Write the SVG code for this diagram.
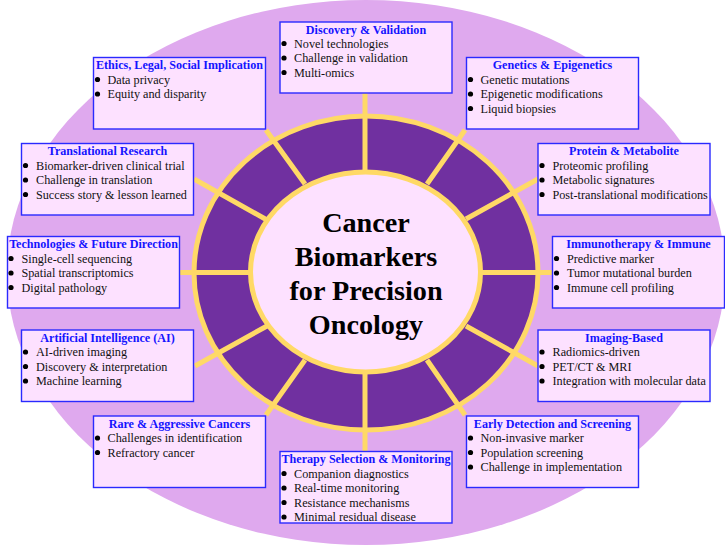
<svg xmlns="http://www.w3.org/2000/svg" width="725" height="545" viewBox="0 0 725 545">
<style>
.box{fill:#fde1ff;stroke:#2a2aff;stroke-width:1.4}
.t{font:bold 12.1px "Liberation Serif","Times New Roman",serif;fill:#1414ff;text-anchor:middle}
.b{font:12.2px "Liberation Serif","Times New Roman",serif;fill:#111}
.d{fill:#000}
.s{stroke:#ffd966;stroke-width:5;fill:none}
.c{font:bold 28.2px "Liberation Serif","Times New Roman",serif;fill:#000;text-anchor:middle}
</style>
<ellipse id="background" cx="366" cy="272.500" rx="359" ry="272.500" fill="#dfa9ee"/>
<g id="ring"><ellipse cx="366" cy="273" rx="172" ry="157" fill="#7030a0" stroke="#ffd966" stroke-width="5"/></g>
<g id="connectors">
<path class="s" d="M365 93V172M365 372V451M180 272.500H250M481 272.500H553M266 130L305 184M194 179L267 220M195 366L267 326M266 415L305 360M465 130L427 184M538 179L466 219M538 366L466 326M465 415L427 360"/>
</g>
<g id="center"><ellipse cx="365.500" cy="272" rx="115" ry="100" fill="#fde1ff" stroke="#ffd966" stroke-width="5"/>
<text class="c" x="366" y="232">Cancer</text><text class="c" x="366" y="266">Biomarkers</text><text class="c" x="366" y="300">for Precision</text><text class="c" x="366" y="334">Oncology</text></g>
<g id="discovery"><rect class="box" x="280" y="22" width="172" height="71"/><text class="t" x="366" y="33.500">Discovery &amp; Validation</text><circle class="d" cx="284" cy="43.500" r="2.600"/><text class="b" x="294" y="47.500">Novel technologies</text><circle class="d" cx="284" cy="58" r="2.600"/><text class="b" x="294" y="62">Challenge in validation</text><circle class="d" cx="284" cy="72.500" r="2.600"/><text class="b" x="294" y="76.500">Multi-omics</text></g>
<g id="ethics"><rect class="box" x="93.500" y="57.500" width="172" height="71.500"/><text class="t" x="179.500" y="69">Ethics, Legal, Social Implication</text><circle class="d" cx="97.500" cy="79.500" r="2.600"/><text class="b" x="107.500" y="83.500">Data privacy</text><circle class="d" cx="97.500" cy="94" r="2.600"/><text class="b" x="107.500" y="98">Equity and disparity</text></g>
<g id="genetics"><rect class="box" x="466.500" y="57.500" width="172" height="71.500"/><text class="t" x="552.500" y="69">Genetics &amp; Epigenetics</text><circle class="d" cx="470.500" cy="79.500" r="2.600"/><text class="b" x="480.500" y="83.500">Genetic mutations</text><circle class="d" cx="470.500" cy="94" r="2.600"/><text class="b" x="480.500" y="98">Epigenetic modifications</text><circle class="d" cx="470.500" cy="108.500" r="2.600"/><text class="b" x="480.500" y="112.500">Liquid biopsies</text></g>
<g id="translational"><rect class="box" x="21.500" y="143.500" width="172" height="71.500"/><text class="t" x="107.500" y="155">Translational Research</text><circle class="d" cx="25.500" cy="165.500" r="2.600"/><text class="b" x="36" y="169.500">Biomarker-driven clinical trial</text><circle class="d" cx="25.500" cy="180" r="2.600"/><text class="b" x="36" y="184">Challenge in translation</text><circle class="d" cx="25.500" cy="194.500" r="2.600"/><text class="b" x="36" y="198.500">Success story &amp; lesson learned</text></g>
<g id="protein"><rect class="box" x="538" y="143.500" width="172" height="71.500"/><text class="t" x="624" y="155">Protein &amp; Metabolite</text><circle class="d" cx="542" cy="165.500" r="2.600"/><text class="b" x="552.500" y="169.500">Proteomic profiling</text><circle class="d" cx="542" cy="180" r="2.600"/><text class="b" x="552.500" y="184">Metabolic signatures</text><circle class="d" cx="542" cy="194.500" r="2.600"/><text class="b" x="552.500" y="198.500">Post-translational modifications</text></g>
<g id="technologies"><rect class="box" x="7.500" y="236.500" width="172" height="71.500"/><text class="t" x="93.500" y="248">Technologies &amp; Future Direction</text><circle class="d" cx="11" cy="258.500" r="2.600"/><text class="b" x="21.500" y="262.500">Single-cell sequencing</text><circle class="d" cx="11" cy="273" r="2.600"/><text class="b" x="21.500" y="277">Spatial transcriptomics</text><circle class="d" cx="11" cy="287.500" r="2.600"/><text class="b" x="21.500" y="291.500">Digital pathology</text></g>
<g id="immunotherapy"><rect class="box" x="552.500" y="236.500" width="172" height="71.500"/><text class="t" x="638.500" y="248">Immunotherapy &amp; Immune</text><circle class="d" cx="556.500" cy="258.500" r="2.600"/><text class="b" x="567" y="262.500">Predictive marker</text><circle class="d" cx="556.500" cy="273" r="2.600"/><text class="b" x="567" y="277">Tumor mutational burden</text><circle class="d" cx="556.500" cy="287.500" r="2.600"/><text class="b" x="567" y="291.500">Immune cell profiling</text></g>
<g id="ai"><rect class="box" x="21.500" y="330" width="172" height="71.500"/><text class="t" x="107.500" y="341.500">Artificial Intelligence (AI)</text><circle class="d" cx="25.500" cy="352" r="2.600"/><text class="b" x="36" y="356">AI-driven imaging</text><circle class="d" cx="25.500" cy="366.500" r="2.600"/><text class="b" x="36" y="370.500">Discovery &amp; interpretation</text><circle class="d" cx="25.500" cy="381" r="2.600"/><text class="b" x="36" y="385">Machine learning</text></g>
<g id="imaging"><rect class="box" x="538" y="330" width="172" height="71.500"/><text class="t" x="624" y="341.500">Imaging-Based</text><circle class="d" cx="542" cy="352" r="2.600"/><text class="b" x="552.500" y="356">Radiomics-driven</text><circle class="d" cx="542" cy="366.500" r="2.600"/><text class="b" x="552.500" y="370.500">PET/CT &amp; MRI</text><circle class="d" cx="542" cy="381" r="2.600"/><text class="b" x="552.500" y="385">Integration with molecular data</text></g>
<g id="rare"><rect class="box" x="93.500" y="416" width="172" height="71.500"/><text class="t" x="179.500" y="427.500">Rare &amp; Aggressive Cancers</text><circle class="d" cx="97.500" cy="438" r="2.600"/><text class="b" x="107.500" y="442">Challenges in identification</text><circle class="d" cx="97.500" cy="452.500" r="2.600"/><text class="b" x="107.500" y="456.500">Refractory cancer</text></g>
<g id="early"><rect class="box" x="466.500" y="416" width="172" height="71.500"/><text class="t" x="552.500" y="427.500">Early Detection and Screening</text><circle class="d" cx="470.500" cy="438" r="2.600"/><text class="b" x="480.500" y="442">Non-invasive marker</text><circle class="d" cx="470.500" cy="452.500" r="2.600"/><text class="b" x="480.500" y="456.500">Population screening</text><circle class="d" cx="470.500" cy="467" r="2.600"/><text class="b" x="480.500" y="471">Challenge in implementation</text></g>
<g id="therapy"><rect class="box" x="280" y="451.500" width="172" height="71.500"/><text class="t" x="366" y="463">Therapy Selection &amp; Monitoring</text><circle class="d" cx="284" cy="473.500" r="2.600"/><text class="b" x="294" y="477.500">Companion diagnostics</text><circle class="d" cx="284" cy="488" r="2.600"/><text class="b" x="294" y="492">Real-time monitoring</text><circle class="d" cx="284" cy="502.500" r="2.600"/><text class="b" x="294" y="506.500">Resistance mechanisms</text><circle class="d" cx="284" cy="517" r="2.600"/><text class="b" x="294" y="521">Minimal residual disease</text></g>
</svg>
